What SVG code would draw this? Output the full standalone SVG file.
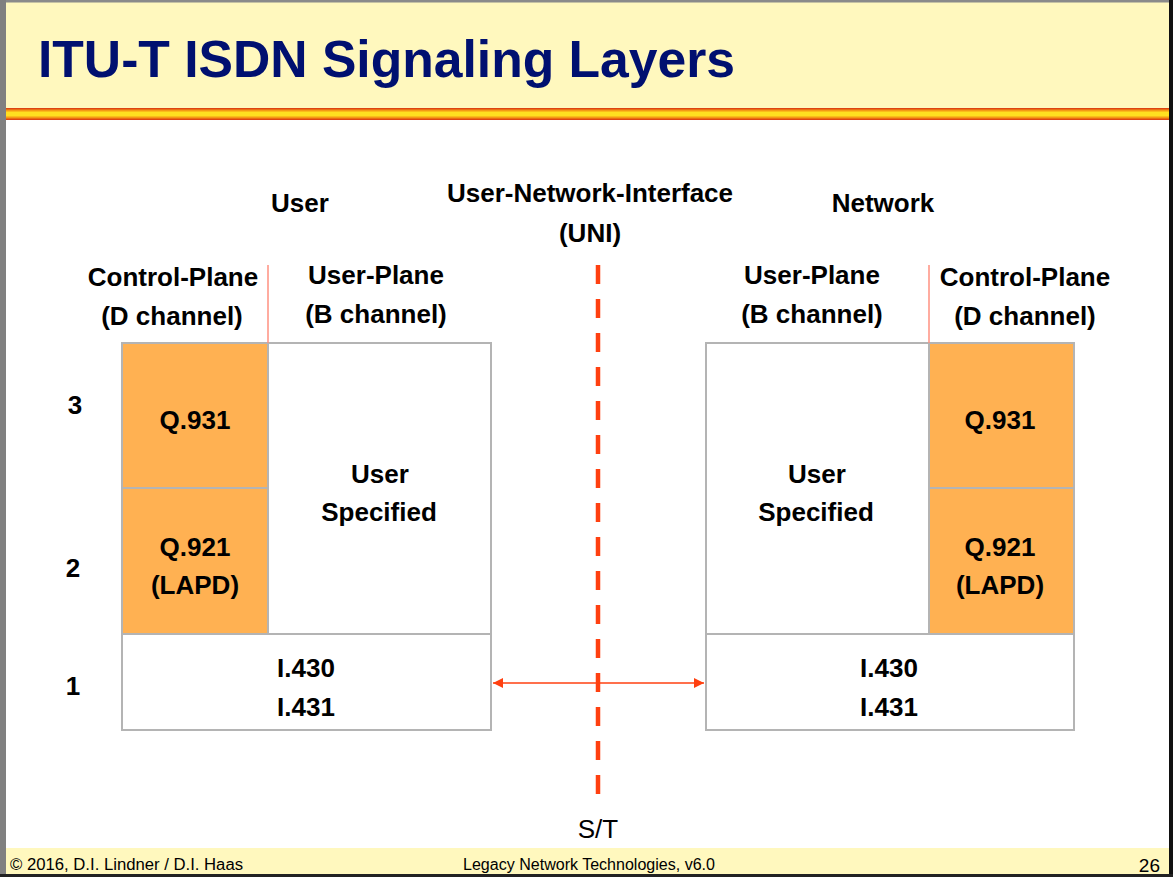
<svg xmlns="http://www.w3.org/2000/svg" width="1173" height="877" viewBox="0 0 1173 877">
<defs>
<style>
.t{font-family:"Liberation Sans",Arial,sans-serif;font-weight:bold;font-size:26px;fill:#000;text-anchor:middle}
.box{stroke:#B4B4B4;stroke-width:2}
.org{fill:#FFB152}
.wht{fill:#FFFFFF}
.ft{font-family:"Liberation Sans",Arial,sans-serif;font-size:16px;fill:#000}
</style>
<marker id="ah" viewBox="0 0 10 10" refX="10" refY="5" markerWidth="10" markerHeight="10" markerUnits="userSpaceOnUse" orient="auto-start-reverse">
<path d="M0,0 L10,5 L0,10 z" fill="#FF4010"/>
</marker>
</defs>
<rect x="0" y="0" width="1173" height="877" fill="#FFFFFF"/>
<!-- header -->
<rect x="0" y="0" width="1173" height="108" fill="#FFF8BE"/>
<rect x="0" y="108" width="1173" height="12" fill="#DD4411"/>
<rect x="0" y="109.5" width="1173" height="9" fill="#F59A15"/>
<rect x="0" y="111.5" width="1173" height="5" fill="#FFE020"/>
<text x="38" y="77" textLength="697" lengthAdjust="spacingAndGlyphs" style="font-family:'Liberation Sans',Arial,sans-serif;font-weight:bold;font-size:52px;fill:#001070">ITU-T ISDN Signaling Layers</text>
<!-- footer -->
<rect x="0" y="848" width="1173" height="29" fill="#FFF8BE"/>
<text class="ft" x="10" y="870" textLength="233" lengthAdjust="spacingAndGlyphs">© 2016, D.I. Lindner / D.I. Haas</text>
<text class="ft" x="463" y="870" textLength="252" lengthAdjust="spacingAndGlyphs">Legacy Network Technologies, v6.0</text>
<text class="ft" x="1160" y="872" text-anchor="end" style="font-size:19px">26</text>
<!-- frame -->
<rect x="0" y="0" width="1173" height="2.5" fill="#8A8A8A"/>
<rect x="0" y="0" width="6" height="877" fill="#808080"/>
<rect x="1169" y="0" width="4" height="877" fill="#111"/>
<rect x="0" y="874" width="1173" height="3" fill="#222"/>
<!-- labels -->
<g id="labels">
<text class="t" x="300" y="212">User</text>
<text class="t" x="590" y="202">User-Network-Interface</text>
<text class="t" x="590" y="242">(UNI)</text>
<text class="t" x="883" y="212">Network</text>
<text class="t" x="173" y="286">Control-Plane</text>
<text class="t" x="172" y="325">(D channel)</text>
<text class="t" x="376" y="284">User-Plane</text>
<text class="t" x="376" y="323">(B channel)</text>
<text class="t" x="812" y="284">User-Plane</text>
<text class="t" x="812" y="323">(B channel)</text>
<text class="t" x="1025" y="286">Control-Plane</text>
<text class="t" x="1025" y="325">(D channel)</text>
<text class="t" x="75" y="414">3</text>
<text class="t" x="73" y="577">2</text>
<text class="t" x="73" y="695">1</text>
<text x="598" y="838" style="font-family:'Liberation Sans',Arial,sans-serif;font-size:26px;text-anchor:middle">S/T</text>
</g>
<!-- left stack -->
<g id="left-q931">
<rect class="box org" x="122" y="343" width="146" height="145"/>
<text class="t" x="195" y="429">Q.931</text>
</g>
<g id="left-q921">
<rect class="box org" x="122" y="488" width="146" height="146"/>
<text class="t" x="195" y="556">Q.921</text>
<text class="t" x="195" y="594">(LAPD)</text>
</g>
<g id="left-user">
<rect class="box wht" x="268" y="343" width="223" height="291"/>
<text class="t" x="380" y="483">User</text>
<text class="t" x="379" y="521">Specified</text>
</g>
<g id="left-l1">
<rect class="box wht" x="122" y="634" width="369" height="96"/>
<text class="t" x="306" y="677">I.430</text>
<text class="t" x="306" y="716">I.431</text>
</g>
<!-- right stack -->
<g id="right-user">
<rect class="box wht" x="706" y="343" width="223" height="291"/>
<text class="t" x="817" y="483">User</text>
<text class="t" x="816" y="521">Specified</text>
</g>
<g id="right-q931">
<rect class="box org" x="929" y="343" width="145" height="145"/>
<text class="t" x="1000" y="429">Q.931</text>
</g>
<g id="right-q921">
<rect class="box org" x="929" y="488" width="145" height="146"/>
<text class="t" x="1000" y="556">Q.921</text>
<text class="t" x="1000" y="594">(LAPD)</text>
</g>
<g id="right-l1">
<rect class="box wht" x="706" y="634" width="368" height="96"/>
<text class="t" x="889" y="677">I.430</text>
<text class="t" x="889" y="716">I.431</text>
</g>
<!-- connectors -->
<g id="connectors">
<line x1="268" y1="265" x2="268" y2="343" stroke="#FF9080" stroke-width="1.5"/>
<line x1="929" y1="265" x2="929" y2="343" stroke="#FF9080" stroke-width="1.5"/>
<line x1="598" y1="265" x2="598" y2="794" stroke="#FF4010" stroke-width="4.5" stroke-dasharray="19,15"/>
<line x1="493" y1="683" x2="704" y2="683" stroke="#FF4010" stroke-width="1.5" marker-start="url(#ah)" marker-end="url(#ah)"/>
</g>
</svg>
